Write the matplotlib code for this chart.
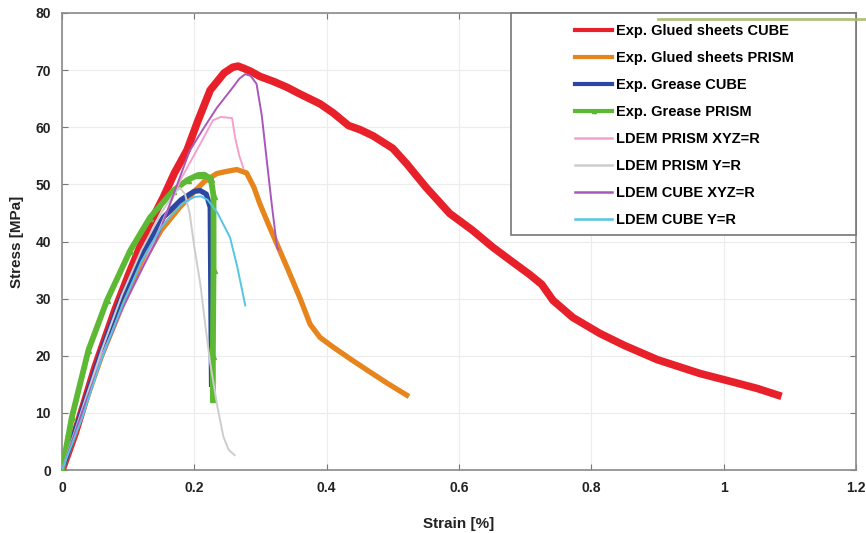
import matplotlib
matplotlib.use("Agg")
import matplotlib.pyplot as plt
from matplotlib.patches import Rectangle
from matplotlib.lines import Line2D

plt.rcParams['font.family'] = ['Liberation Sans', 'DejaVu Sans']
plt.rcParams['font.weight'] = 'bold'

# ---------------- data ----------------
red_x = [0, 0.02, 0.05, 0.08, 0.10, 0.13, 0.153, 0.17, 0.189, 0.205, 0.224, 0.245, 0.258, 0.266,
         0.275, 0.285, 0.299, 0.32, 0.34, 0.36, 0.39, 0.41, 0.433, 0.45, 0.47, 0.50, 0.521, 0.55,
         0.586, 0.62, 0.651, 0.68, 0.707, 0.725, 0.742, 0.772, 0.813, 0.85, 0.9, 0.964, 1.014,
         1.05, 1.082]
red_y = [0, 6.5, 18, 28, 34, 42.5, 47.7, 52, 56, 61, 66.5, 69.5, 70.5, 70.7, 70.3, 69.8, 68.9,
         68.0, 67.0, 65.8, 64.1, 62.5, 60.3, 59.6, 58.5, 56.3, 53.6, 49.5, 44.9, 42, 39.0, 36.5,
         34.2, 32.5, 29.7, 26.7, 23.9, 21.8, 19.3, 16.9, 15.4, 14.3, 13.1]

orange_x = [0, 0.03, 0.06, 0.09, 0.12, 0.15, 0.178, 0.198, 0.215, 0.234, 0.25, 0.264, 0.279,
            0.29, 0.299, 0.312, 0.325, 0.34, 0.36, 0.375, 0.39, 0.41, 0.435, 0.461, 0.49, 0.521]
orange_y = [0, 10, 20, 28.5, 36, 42, 46, 48.5, 50.5, 51.9, 52.3, 52.6, 52, 49.5, 46.6, 43,
            39.5, 35.5, 30, 25.5, 23.2, 21.5, 19.5, 17.5, 15.3, 13.1]

blue_x = [0, 0.027, 0.06, 0.088, 0.123, 0.153, 0.18, 0.2, 0.209, 0.218, 0.224, 0.225, 0.226]
blue_y = [0, 9.3, 21, 29.7, 38.4, 44.2, 47.3, 48.8, 48.9, 48.3, 46, 30, 15]

green_x = [0, 0.015, 0.04, 0.068, 0.103, 0.133, 0.168, 0.19, 0.205, 0.215, 0.225, 0.229,
           0.229, 0.228, 0.228]
green_y = [0, 9.3, 21, 29.7, 38.4, 44.2, 48.9, 50.8, 51.6, 51.7, 51.0, 48, 35, 20, 12.5]

pink_x = [0, 0.03, 0.06, 0.09, 0.12, 0.15, 0.18, 0.209, 0.228, 0.24, 0.249, 0.257, 0.262,
          0.268, 0.274]
pink_y = [0, 10, 20, 28, 35, 43, 51, 57.1, 61.2, 61.8, 61.7, 61.6, 58, 55, 52.9]

gray_x = [0, 0.03, 0.06, 0.09, 0.12, 0.15, 0.17, 0.178, 0.186, 0.193, 0.2, 0.209, 0.217,
          0.224, 0.235, 0.244, 0.252, 0.261]
gray_y = [0, 10.5, 21, 30.5, 38.5, 45, 48.5, 49.4, 48.3, 44.9, 39, 32.6, 25, 18.7, 11, 5.8,
          3.5, 2.6]

purple_x = [0, 0.03, 0.06, 0.09, 0.12, 0.143, 0.17, 0.193, 0.215, 0.234, 0.255, 0.268, 0.277,
            0.285, 0.294, 0.302, 0.309, 0.317, 0.325, 0.327]
purple_y = [0, 10, 19.5, 28, 35, 40.2, 48.7, 55.9, 60, 63.4, 66.5, 68.5, 69.3, 69.0, 67.6,
            62, 54.7, 46.5, 39.0, 38.6]

cyan_x = [0, 0.03, 0.06, 0.09, 0.12, 0.15, 0.18, 0.2, 0.21, 0.22, 0.235, 0.254, 0.265, 0.277]
cyan_y = [0, 9, 19.5, 28.5, 36.5, 42.5, 46.5, 47.8, 47.9, 47.3, 45, 40.7, 35.5, 28.8]

labels = ["Exp. Glued sheets CUBE", "Exp. Glued sheets PRISM", "Exp. Grease CUBE",
          "Exp. Grease PRISM", "LDEM PRISM XYZ=R", "LDEM PRISM Y=R", "LDEM CUBE XYZ=R",
          "LDEM CUBE Y=R"]
x_ticks = [0, 0.2, 0.4, 0.6, 0.8, 1, 1.2]
x_tick_labels = ["0", "0.2", "0.4", "0.6", "0.8", "1", "1.2"]
y_ticks = [0, 10, 20, 30, 40, 50, 60, 70, 80]

# ---------------- figure ----------------
fig = plt.figure(figsize=(8.66, 5.33), dpi=100)
ax = fig.add_axes([62/866, 1-470/533, (856-62)/866, (470-13)/533])

c_red = "#e8202a"
c_orange = "#e8841c"
c_blue = "#2a47a3"
c_green = "#5db833"
c_pink = "#f5a0cc"
c_gray = "#cdcdcd"
c_purple = "#a858b8"
c_cyan = "#55c5e3"

ax.plot(red_x, red_y, color=c_red, lw=5.5, solid_joinstyle='round', label=labels[0], zorder=3)
ax.plot(orange_x, orange_y, color=c_orange, lw=3.8, label=labels[1], zorder=3)
ax.plot(blue_x, blue_y, color=c_blue, lw=3.8, label=labels[2], zorder=3)
ax.plot(green_x, green_y, color=c_green, lw=4.2, marker='^', ms=4, label=labels[3], zorder=3)
ax.plot(pink_x, pink_y, color=c_pink, lw=1.4, label=labels[4], zorder=4)
ax.plot(gray_x, gray_y, color=c_gray, lw=1.4, label=labels[5], zorder=4)
ax.plot(purple_x, purple_y, color=c_purple, lw=1.4, label=labels[6], zorder=4)
ax.plot(cyan_x, cyan_y, color=c_cyan, lw=1.4, label=labels[7], zorder=4)

ax.set_xlim(0, 1.2)
ax.set_ylim(0, 80)
ax.set_xticks(x_ticks)
ax.set_xticklabels(x_tick_labels)
ax.set_yticks(y_ticks)
ax.grid(True, color="#ececec", lw=0.8)
ax.set_axisbelow(True)
ax.tick_params(direction='in', length=4, width=0.8, color="#777777", top=True, right=True,
               labelsize=10, pad=8)
for lab in ax.get_xticklabels() + ax.get_yticklabels():
    lab.set_fontweight('bold')
    lab.set_color('#222222')
for s in ax.spines.values():
    s.set_color("#8a8a8a")
    s.set_linewidth(1.2)

ax.set_xlabel("Strain [%]", fontsize=11, fontweight='bold', color='#222222', labelpad=16)
ax.set_ylabel("Stress [MPa]", fontsize=11, fontweight='bold', color='#222222', labelpad=8)

# legend box
rect = Rectangle((511/866, 1-235/533), (856-511)/866, (235-13)/533, transform=fig.transFigure,
                 facecolor='white', edgecolor='#777777', lw=1.2, zorder=5)
fig.patches.append(rect)
leg = fig.legend(loc='upper left', bbox_to_anchor=(562/866, 1-11/533), frameon=False,
                 handlelength=2.55, handletextpad=0.28, labelspacing=0.89,
                 prop={'weight': 'bold', 'size': 10.5})
leg.set_zorder(6)
for h in leg.legend_handles:
    h.set_linewidth(max(h.get_linewidth() if h.get_linewidth() < 2 else 3.0, 1.8))
    if h.get_marker() == '^':
        h.set_markersize(3)

# decorative line at top right
fig.add_artist(Line2D([0.76, 1.0], [1-18.5/533, 1-18.5/533], transform=fig.transFigure,
                      color="#a9bb6c", lw=2, zorder=10, alpha=0.9))

fig.savefig("out.png", dpi=100, facecolor='white')
